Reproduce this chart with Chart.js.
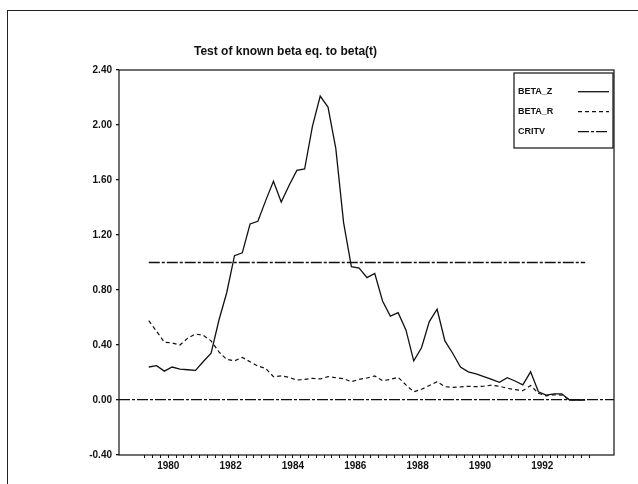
<!DOCTYPE html>
<html>
<head>
<meta charset="utf-8">
<title>Test of known beta eq. to beta(t)</title>
<script src="https://cdn.jsdelivr.net/npm/chart.js@4.4.0/dist/chart.umd.min.js"></script>
<style>
  html, body { margin: 0; padding: 0; background: #fff; }
  #wrap { position: relative; width: 638px; height: 484px; overflow: hidden; }
  #frame { position: absolute; left: 7px; top: 10px; width: 640px; height: 480px;
           border-left: 1.5px solid #222; border-top: 1.5px solid #222; }
  #titulo { position: absolute; left: 0; top: 45px; width: 571px; text-align: center;
            font: bold 12px 'Liberation Sans', Arial, sans-serif; line-height: 12px; color: #111; }
  canvas { position: absolute; left: 0; top: 0; }
</style>
</head>
<body>
<div id="wrap">
  <div id="frame"></div>
  <canvas id="grafico" width="638" height="484"></canvas>
  <div id="titulo">Test of known beta eq. to beta(t)</div>
</div>
<script>
// Trimestres observados (1979Q2 .. 1993Q2)
const trimestres = [
    '1979Q2', '1979Q3', '1979Q4',
    '1980Q1', '1980Q2', '1980Q3', '1980Q4',
    '1981Q1', '1981Q2', '1981Q3', '1981Q4',
    '1982Q1', '1982Q2', '1982Q3', '1982Q4',
    '1983Q1', '1983Q2', '1983Q3', '1983Q4',
    '1984Q1', '1984Q2', '1984Q3', '1984Q4',
    '1985Q1', '1985Q2', '1985Q3', '1985Q4',
    '1986Q1', '1986Q2', '1986Q3', '1986Q4',
    '1987Q1', '1987Q2', '1987Q3', '1987Q4',
    '1988Q1', '1988Q2', '1988Q3', '1988Q4',
    '1989Q1', '1989Q2', '1989Q3', '1989Q4',
    '1990Q1', '1990Q2', '1990Q3', '1990Q4',
    '1991Q1', '1991Q2', '1991Q3', '1991Q4',
    '1992Q1', '1992Q2', '1992Q3', '1992Q4',
    '1993Q1', '1993Q2'
];

const betaZ = [
    0.24, 0.25, 0.21, 0.24, 0.225, 0.22, 0.215, 0.28, 0.34, 0.58,
    0.78, 1.05, 1.07, 1.28, 1.30, 1.45, 1.59, 1.44, 1.56, 1.67,
    1.68, 1.99, 2.21, 2.13, 1.83, 1.29, 0.97, 0.96, 0.89, 0.92,
    0.72, 0.61, 0.635, 0.51, 0.285, 0.38, 0.57, 0.66, 0.43, 0.34,
    0.24, 0.205, 0.19, 0.17, 0.15, 0.128, 0.162, 0.138, 0.11, 0.205,
    0.06, 0.036, 0.045, 0.045, 0.0, 0.0, 0.0
];

const betaR = [
    0.577, 0.50, 0.42, 0.415, 0.40, 0.45, 0.48, 0.47, 0.43, 0.35,
    0.295, 0.285, 0.31, 0.278, 0.247, 0.23, 0.17, 0.175, 0.165, 0.145,
    0.15, 0.158, 0.153, 0.17, 0.162, 0.155, 0.133, 0.15, 0.16, 0.175,
    0.14, 0.15, 0.165, 0.11, 0.06, 0.078, 0.105, 0.133, 0.097, 0.092,
    0.095, 0.10, 0.097, 0.10, 0.108, 0.10, 0.085, 0.075, 0.068, 0.105,
    0.049, 0.03, 0.038, 0.036, 0.0, 0.0, 0.0
];

const critv = [
    1, 1, 1, 1, 1, 1, 1, 1, 1, 1,
    1, 1, 1, 1, 1, 1, 1, 1, 1, 1,
    1, 1, 1, 1, 1, 1, 1, 1, 1, 1,
    1, 1, 1, 1, 1, 1, 1, 1, 1, 1,
    1, 1, 1, 1, 1, 1, 1, 1, 1, 1,
    1, 1, 1, 1, 1, 1, 1
];

const rotulosAnos = ['1980', '1982', '1984', '1986', '1988', '1990', '1992'];
const marcasY = [-0.4, 0, 0.4, 0.8, 1.2, 1.6, 2.0, 2.4];

// posição de cada trimestre no eixo (meio do trimestre)
function emAnos(t) {
    const ano = parseInt(t.slice(0, 4), 10);
    const q = parseInt(t.slice(5), 10);
    return ano + (q - 1) / 4 + 0.125;
}
const pontos = serie => serie.map((v, i) => ({ x: emAnos(trimestres[i]), y: v }));

// marcas trimestrais pequenas no eixo X
const marcasX = [];
for (let v = 1979.25; v <= 1993.5 + 1e-9; v += 0.25) marcasX.push(v);

const traco = '#111';
const tracoCritv = [11, 2, 3, 2];

// moldura do gráfico
const moldura = {
    id: 'moldura',
    afterDatasetsDraw(chart) {
        const { ctx, chartArea: a } = chart;
        ctx.save();
        ctx.strokeStyle = traco;
        ctx.lineWidth = 1.2;
        ctx.strokeRect(a.left, a.top, a.right - a.left, a.bottom - a.top);
        ctx.restore();
    }
};

// legenda com texto à esquerda e amostra da linha à direita
const legendaCaixa = {
    id: 'legendaCaixa',
    afterDraw(chart) {
        const { ctx, chartArea: a } = chart;
        const x0 = a.right - 100, y0 = a.top + 3, w = 99, h = 75;
        ctx.save();
        ctx.fillStyle = '#fff';
        ctx.fillRect(x0, y0, w, h);
        ctx.strokeStyle = traco;
        ctx.lineWidth = 1.2;
        ctx.strokeRect(x0, y0, w, h);
        ctx.font = "bold 9px 'Liberation Sans', Arial, sans-serif";
        ctx.textBaseline = 'middle';
        ctx.fillStyle = traco;
        chart.data.datasets.forEach((ds, i) => {
            const y = y0 + 18.7 + i * 20;
            ctx.fillText(ds.label, x0 + 4, y);
            ctx.setLineDash(ds.borderDash || []);
            ctx.lineWidth = ds.borderWidth;
            ctx.beginPath();
            ctx.moveTo(a.right - 36, y);
            ctx.lineTo(a.right - 5, y);
            ctx.stroke();
        });
        ctx.restore();
    }
};

Chart.defaults.font.family = "'Liberation Sans', Arial, sans-serif";
Chart.defaults.color = traco;

new Chart(document.getElementById('grafico'), {
    type: 'line',
    data: {
        datasets: [
            { label: 'BETA_Z', data: pontos(betaZ), borderColor: traco, borderWidth: 1.3, borderDash: [] },
            { label: 'BETA_R', data: pontos(betaR), borderColor: traco, borderWidth: 1.2, borderDash: [4, 3] },
            { label: 'CRITV', data: pontos(critv), borderColor: traco, borderWidth: 1.3, borderDash: tracoCritv }
        ]
    },
    options: {
        responsive: false,
        animation: false,
        elements: { point: { radius: 0 }, line: { tension: 0 } },
        layout: { padding: { left: 79, right: 24, top: 70, bottom: 9 } },
        plugins: { legend: { display: false }, tooltip: { enabled: false } },
        scales: {
            x: {
                type: 'linear',
                min: 1978.42,
                max: 1994.30,
                afterBuildTicks: s => { s.ticks = marcasX.map(v => ({ value: v })); },
                afterFit: s => { s.height = 20; },
                ticks: {
                    autoSkip: false,
                    maxRotation: 0,
                    padding: 2,
                    font: { size: 10, weight: 'bold' },
                    callback: v => {
                        const r = rotulosAnos.find(a => Math.abs(+a - v) < 1e-6);
                        return r || '';
                    }
                },
                grid: { drawOnChartArea: false, drawTicks: true, tickLength: 3, tickColor: traco },
                border: { display: false }
            },
            y: {
                min: -0.4,
                max: 2.4,
                afterBuildTicks: s => { s.ticks = marcasY.map(v => ({ value: v })); },
                afterFit: s => { s.width = 40; },
                ticks: {
                    padding: 4,
                    font: { size: 10, weight: 'bold' },
                    callback: v => v.toFixed(2)
                },
                grid: {
                    color: c => (c.tick && Math.abs(c.tick.value) < 1e-9) ? traco : 'rgba(0,0,0,0)',
                    lineWidth: 1.3,
                    drawTicks: true,
                    tickLength: 3,
                    tickColor: traco
                },
                border: { display: false, dash: tracoCritv }
            }
        }
    },
    plugins: [moldura, legendaCaixa]
});
</script>
</body>
</html>
